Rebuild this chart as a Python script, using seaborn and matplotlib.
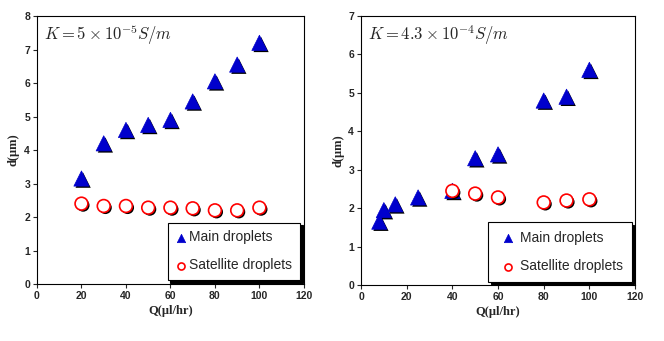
import matplotlib
matplotlib.use('Agg')
import matplotlib.pyplot as plt
import matplotlib.patheffects as pe
import seaborn as sns

# Left panel: K = 5e-5 S/m
q_left = [20, 30, 40, 50, 60, 70, 80, 90, 100]
main_left = [3.15, 4.2, 4.6, 4.75, 4.9, 5.45, 6.05, 6.55, 7.2]
sat_left = [2.4, 2.33, 2.33, 2.28, 2.28, 2.26, 2.2, 2.2, 2.28]

# Right panel: K = 4.3e-4 S/m
q_right_main = [8, 10, 15, 25, 40, 50, 60, 80, 90, 100]
main_right = [1.65, 1.95, 2.1, 2.28, 2.45, 3.3, 3.4, 4.8, 4.9, 5.6]
q_right_sat = [40, 50, 60, 80, 90, 100]
sat_right = [2.45, 2.38, 2.28, 2.15, 2.2, 2.23]

x_ticks = [0, 20, 40, 60, 80, 100, 120]

sns.set_style("ticks")
plt.rcParams['font.family'] = ['Liberation Sans', 'DejaVu Sans']
plt.rcParams['mathtext.fontset'] = 'cm'

fig = plt.figure(figsize=(6.64, 3.41), dpi=100)
ax1 = fig.add_axes([0.0557, 0.167, 0.402, 0.786])
ax2 = fig.add_axes([0.5437, 0.164, 0.4127, 0.789])

shadow = [pe.SimplePatchShadow(offset=(1.2, -1.2), shadow_rgbFace='black', alpha=1.0), pe.Normal()]


def panel(ax, qm, main, qs, sat, ymax, label, legend_kw):
    sns.scatterplot(x=qm, y=main, ax=ax, marker='^', s=120, color='#0000cc',
                    edgecolor='#0000cc', linewidth=0.5, label='Main droplets',
                    path_effects=shadow, zorder=3)
    sns.scatterplot(x=qs, y=sat, ax=ax, marker='o', s=85, facecolor='white',
                    edgecolor='red', linewidth=1.2, label='Satellite droplets',
                    path_effects=shadow, zorder=3)
    ax.set_xlim(0, 120)
    ax.set_ylim(0, ymax)
    ax.set_xticks(x_ticks)
    ax.set_yticks(range(0, ymax + 1))
    for lab in ax.get_xticklabels() + ax.get_yticklabels():
        lab.set_fontweight('bold')
        lab.set_fontsize(7.5)
    ax.tick_params(direction='out', length=3, width=0.8, pad=2)
    for sp in ax.spines.values():
        sp.set_visible(True)
        sp.set_color('black')
        sp.set_linewidth(0.8)
    ax.set_xlabel('Q(μl/hr)', fontfamily='Liberation Serif', fontweight='bold', fontsize=9, labelpad=3)
    ax.set_ylabel('d(μm)', fontfamily='Liberation Serif', fontweight='bold', fontsize=9, labelpad=3)
    ax.text(0.025, 0.975, label, transform=ax.transAxes, va='top', ha='left', fontsize=12)
    kw = dict(loc='lower right', frameon=True, fancybox=False, framealpha=1,
              edgecolor='black', fontsize=10, markerscale=0.55,
              handletextpad=0.1, handlelength=0.9,
              shadow={'color': 'black', 'alpha': 1.0, 'ox': 2, 'oy': -2})
    kw.update(legend_kw)
    leg = ax.legend(**kw)
    leg.get_frame().set_linewidth(0.8)
    for h in leg.legend_handles:
        h.set_path_effects([])


panel(ax1, q_left, main_left, q_left, sat_left, 8, r'$K = 5\times10^{-5}S/m$',
      dict(labelspacing=1.0, borderpad=0.55, borderaxespad=0.3))
panel(ax2, q_right_main, main_right, q_right_sat, sat_right, 7, r'$K = 4.3\times10^{-4}S/m$',
      dict(labelspacing=1.05, borderpad=0.6, borderaxespad=0.25, handlelength=1.6))

fig.savefig('out.png', dpi=100)
